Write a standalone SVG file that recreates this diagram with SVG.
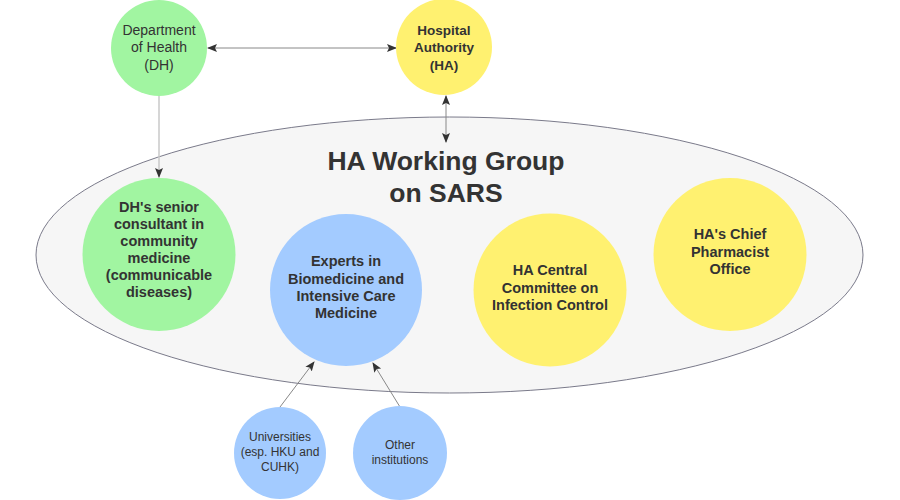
<svg xmlns="http://www.w3.org/2000/svg" width="900" height="500" viewBox="0 0 900 500">
<style>
text{font-family:"Liberation Sans",Arial,sans-serif;fill:#333;text-anchor:middle}
.b{font-weight:bold}
.green{fill:#a1f5a1}
.blue{fill:#a3cbff}
.yellow{fill:#fff170}
.conn{fill:none;stroke:#888;stroke-width:1}
.connl{fill:none;stroke:#c8c8c8;stroke-width:1.5}
</style>
<defs>
<marker id="ah" viewBox="0 0 10 10" refX="9" refY="5" markerWidth="10" markerHeight="10" markerUnits="userSpaceOnUse" orient="auto-start-reverse">
<path d="M0,1 L10,5 L0,9 L2,5 Z" fill="#333"/>
</marker>
</defs>
<rect width="900" height="500" fill="#fff"/>
<g id="working-group">
<ellipse cx="449.5" cy="255" rx="413.5" ry="138" fill="#f6f6f6" stroke="#7a7a8a" stroke-width="1"/>
<text class="b" font-size="26.5" x="446" y="170">HA Working Group</text>
<text class="b" font-size="26.5" x="446" y="202">on SARS</text>
</g>
<g id="connectors">
<line class="conn" x1="208" y1="48" x2="396" y2="48" marker-start="url(#ah)" marker-end="url(#ah)"/>
<line class="conn" x1="446" y1="96" x2="446" y2="142" marker-start="url(#ah)" marker-end="url(#ah)"/>
<line class="connl" x1="159" y1="96" x2="159" y2="177" marker-end="url(#ah)"/>
<line class="conn" x1="280" y1="407" x2="314" y2="362" marker-end="url(#ah)"/>
<line class="conn" x1="400" y1="407" x2="373" y2="363" marker-end="url(#ah)"/>
</g>
<g id="dh">
<circle class="green" cx="159" cy="48" r="48"/>
<text font-size="14" x="159" y="35">Department</text>
<text font-size="14" x="159" y="52">of Health</text>
<text font-size="14" x="159" y="70">(DH)</text>
</g>
<g id="ha">
<circle class="yellow" cx="444" cy="47" r="48"/>
<text class="b" font-size="13.5" x="444" y="35">Hospital</text>
<text class="b" font-size="13.5" x="444" y="52">Authority</text>
<text class="b" font-size="13.5" x="444" y="70">(HA)</text>
</g>
<g id="dh-consultant">
<circle class="green" cx="159" cy="254.5" r="76.5"/>
<text class="b" font-size="14.5" x="159" y="212">DH's senior</text>
<text class="b" font-size="14.5" x="159" y="229">consultant in</text>
<text class="b" font-size="14.5" x="159" y="246">community</text>
<text class="b" font-size="14.5" x="159" y="263">medicine</text>
<text class="b" font-size="14.5" x="159" y="280">(communicable</text>
<text class="b" font-size="14.5" x="159" y="297">diseases)</text>
</g>
<g id="experts">
<circle class="blue" cx="346" cy="290" r="76"/>
<text class="b" font-size="14.5" x="346" y="266">Experts in</text>
<text class="b" font-size="14.5" x="346" y="284">Biomedicine and</text>
<text class="b" font-size="14.5" x="346" y="301">Intensive Care</text>
<text class="b" font-size="14.5" x="346" y="318">Medicine</text>
</g>
<g id="ha-central">
<circle class="yellow" cx="550" cy="290" r="76.5"/>
<text class="b" font-size="14.5" x="550" y="275">HA Central</text>
<text class="b" font-size="14.5" x="550" y="293">Committee on</text>
<text class="b" font-size="14.5" x="550" y="310">Infection Control</text>
</g>
<g id="ha-pharmacist">
<circle class="yellow" cx="730" cy="254.5" r="76.5"/>
<text class="b" font-size="14.5" x="730" y="239">HA's Chief</text>
<text class="b" font-size="14.5" x="730" y="257">Pharmacist</text>
<text class="b" font-size="14.5" x="730" y="274">Office</text>
</g>
<g id="universities">
<circle class="blue" cx="280" cy="453" r="46"/>
<text font-size="12" x="280" y="441">Universities</text>
<text font-size="12" x="280" y="456">(esp. HKU and</text>
<text font-size="12" x="280" y="471">CUHK)</text>
</g>
<g id="other">
<circle class="blue" cx="400" cy="453" r="47"/>
<text font-size="12" x="400" y="449">Other</text>
<text font-size="12" x="400" y="464">institutions</text>
</g>
</svg>
